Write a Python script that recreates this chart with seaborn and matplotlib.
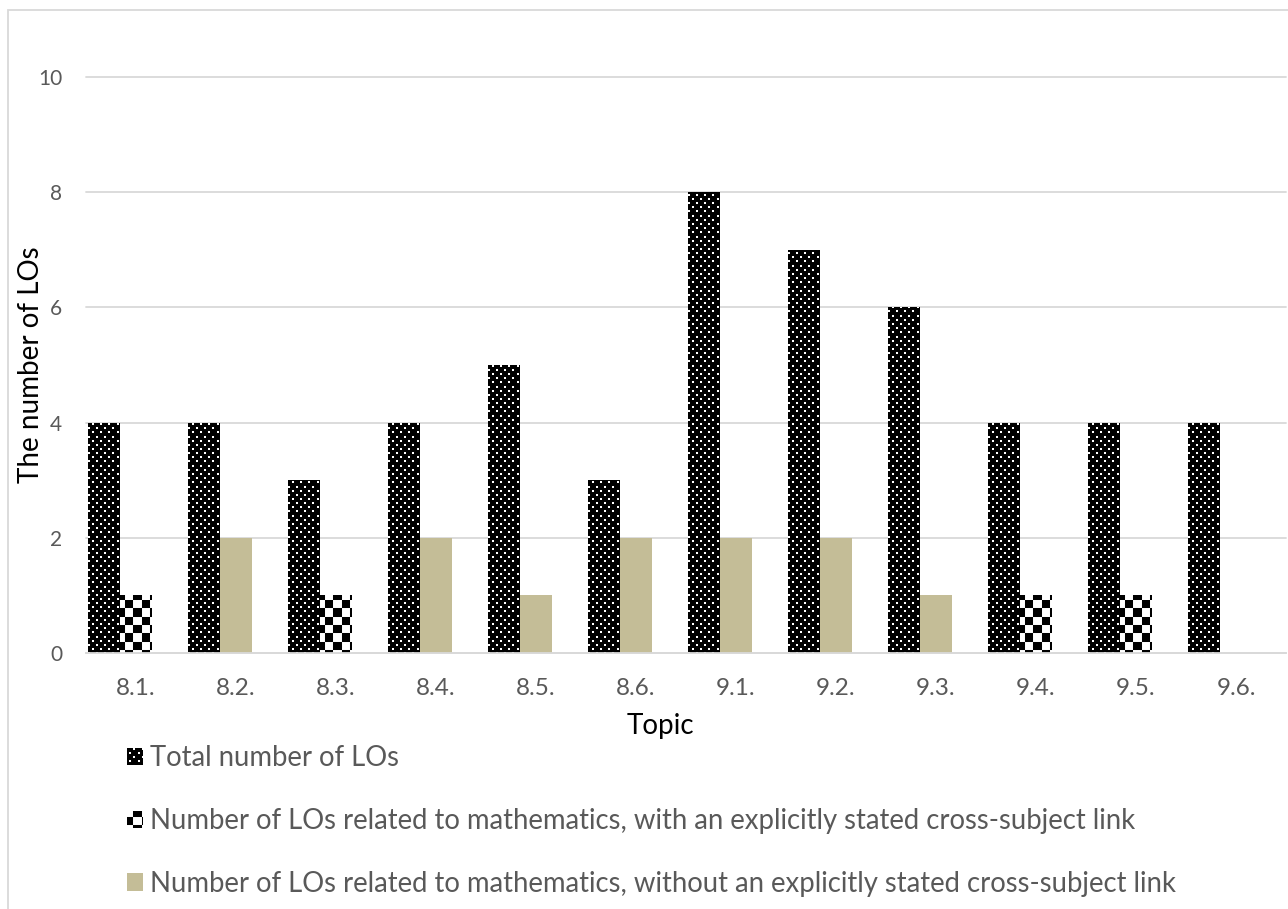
import warnings

import matplotlib
matplotlib.use("Agg")
import matplotlib.pyplot as plt
import matplotlib.hatch as mhatch
import pandas as pd
import seaborn as sns
from matplotlib.patches import Patch, Rectangle
from matplotlib.path import Path

warnings.filterwarnings("ignore")

# ---------------------------------------------------------------- data
topics = ["8.1.", "8.2.", "8.3.", "8.4.", "8.5.", "8.6.",
          "9.1.", "9.2.", "9.3.", "9.4.", "9.5.", "9.6."]
total_los = [4, 4, 3, 4, 5, 3, 8, 7, 6, 4, 4, 4]
math_explicit = [1, 0, 1, 0, 0, 0, 0, 0, 0, 1, 1, 0]
math_implicit = [0, 2, 0, 2, 1, 2, 2, 2, 1, 0, 0, 0]

series_labels = [
    "Total number of LOs",
    "Number of LOs related to mathematics, with an explicitly stated cross-subject link",
    "Number of LOs related to mathematics, without an explicitly stated cross-subject link",
]
y_ticks = [0, 2, 4, 6, 8, 10]


# ------------------------------------------------ square fill patterns
# One hatch tile spans 100 px at 100 dpi; squares are snapped to whole
# pixels so the pattern stays crisp.
def _snap(v):
    return round(v * 100) / 100


class _SquareHatch(mhatch.HatchPatternBase):
    symbol = ""
    filled = True

    def __init__(self, hatch, density):
        self.squares = self.layout() if self.symbol in hatch else []
        self.num_vertices = 5 * len(self.squares)

    def layout(self):
        return []

    def set_vertices_and_codes(self, vertices, codes):
        for k, (x0, y0, x1, y1) in enumerate(self.squares):
            vertices[5 * k:5 * k + 5] = [(x0, y0), (x1, y0), (x1, y1), (x0, y1), (x0, y0)]
            codes[5 * k] = Path.MOVETO
            codes[5 * k + 1:5 * k + 4] = Path.LINETO
            codes[5 * k + 4] = Path.CLOSEPOLY


class DotHatch(_SquareHatch):
    """Staggered grid of small square dots."""
    symbol = "d"

    def layout(self):
        n, s = 12, 0.02
        pts = []
        for i in range(n):
            for j in range(n):
                for dx, dy in ((0.0, 0.0), (0.5, 0.5)):
                    x0 = _snap((i + dx) / n)
                    y0 = _snap((j + dy) / n)
                    pts.append((x0, y0, x0 + s, y0 + s))
        return pts


class CheckerHatch(_SquareHatch):
    """Checkerboard."""
    symbol = "k"

    def layout(self):
        n = 12
        return [(_snap(i / n), _snap(j / n), _snap((i + 1) / n), _snap((j + 1) / n))
                for i in range(n) for j in range(n) if (i + j) % 2 == 0]


mhatch._hatch_types.extend([DotHatch, CheckerHatch])

# ---------------------------------------------------------------- style
sns.set_theme(style="white")
plt.rcParams["font.family"] = ["Lato", "DejaVu Sans"]
plt.rcParams["hatch.linewidth"] = 0.02

TICK_GREY = "#595959"
GRID_GREY = "#D9D9D9"
TAN = "#C4BD97"

styles = {
    "total": dict(face="black", edge="white", hatch="d"),
    "explicit": dict(face="white", edge="black", hatch="k"),
    "implicit": dict(face=TAN, edge=TAN, hatch=None),
}

slots = ["total", "related", "spare"]
df = pd.DataFrame({
    "topic": topics * 3,
    "series": ["total"] * len(topics) + ["explicit"] * len(topics) + ["implicit"] * len(topics),
    "value": total_los + math_explicit + math_implicit,
})
df["slot"] = df["series"].map({"total": "total", "explicit": "related", "implicit": "related"})

W, H = 1288, 909
fig = plt.figure(figsize=(W / 100, H / 100), dpi=100)
ax = fig.add_axes([86 / W, 1 - 653 / H, 1200 / W, 576 / H])

for key in ["total", "explicit", "implicit"]:
    st = styles[key]
    n0 = len(ax.patches)
    sns.barplot(data=df[df["series"] == key], x="topic", y="value",
                hue="slot", hue_order=slots, order=topics,
                palette={s: st["face"] for s in slots},
                width=0.96, dodge=True, errorbar=None, saturation=1,
                legend=False, ax=ax)
    for p in ax.patches[n0:]:
        p.set_edgecolor(st["edge"])
        p.set_linewidth(0)
        p.set_hatch(st["hatch"])

# ---------------------------------------------------------------- axes
ax.set_xlim(-0.5, len(topics) - 0.5)
ax.set_ylim(0, 10)
ax.set_yticks(y_ticks)
ax.grid(axis="y", color=GRID_GREY, linewidth=1.3, clip_on=False)
ax.grid(axis="x", visible=False)
ax.set_axisbelow(True)
for side in ["top", "right", "left"]:
    ax.spines[side].set_visible(False)
ax.spines["bottom"].set_color(GRID_GREY)
ax.spines["bottom"].set_linewidth(1.3)
ax.tick_params(axis="both", length=0, labelcolor=TICK_GREY)
ax.tick_params(axis="y", labelsize=15, pad=17)
ax.tick_params(axis="x", labelsize=17.5, pad=18)

ax.set_xlabel("Topic", fontsize=20, color="black")
ax.set_ylabel("The number of LOs", fontsize=20, color="black")
ax.xaxis.set_label_coords((660 - 86) / 1200, (653 - 713) / 576)
ax.yaxis.set_label_coords((44 - 86) / 1200, 0.5)

# ---------------------------------------------------------------- legend
handles = [
    Patch(facecolor="black", edgecolor="white", linewidth=0, hatch="d"),
    Patch(facecolor="white", edgecolor="black", linewidth=0, hatch="k"),
    Patch(facecolor=TAN, edgecolor=TAN, linewidth=0),
]
fig.legend(handles, series_labels, loc="upper left",
           bbox_to_anchor=(127 / W, 1 - 745 / H), frameon=False,
           fontsize=19.8, labelcolor=TICK_GREY, labelspacing=1.34,
           handlelength=0.58, handleheight=0.58, handletextpad=0.26,
           borderpad=0, borderaxespad=0)

# thin frame around the chart area
fig.add_artist(Rectangle((8 / W, -0.1), 1.2, 1 - 10 / H + 0.1,
                         transform=fig.transFigure, fill=False,
                         edgecolor=GRID_GREY, linewidth=1.3))

fig.savefig("out.png", dpi=100)
